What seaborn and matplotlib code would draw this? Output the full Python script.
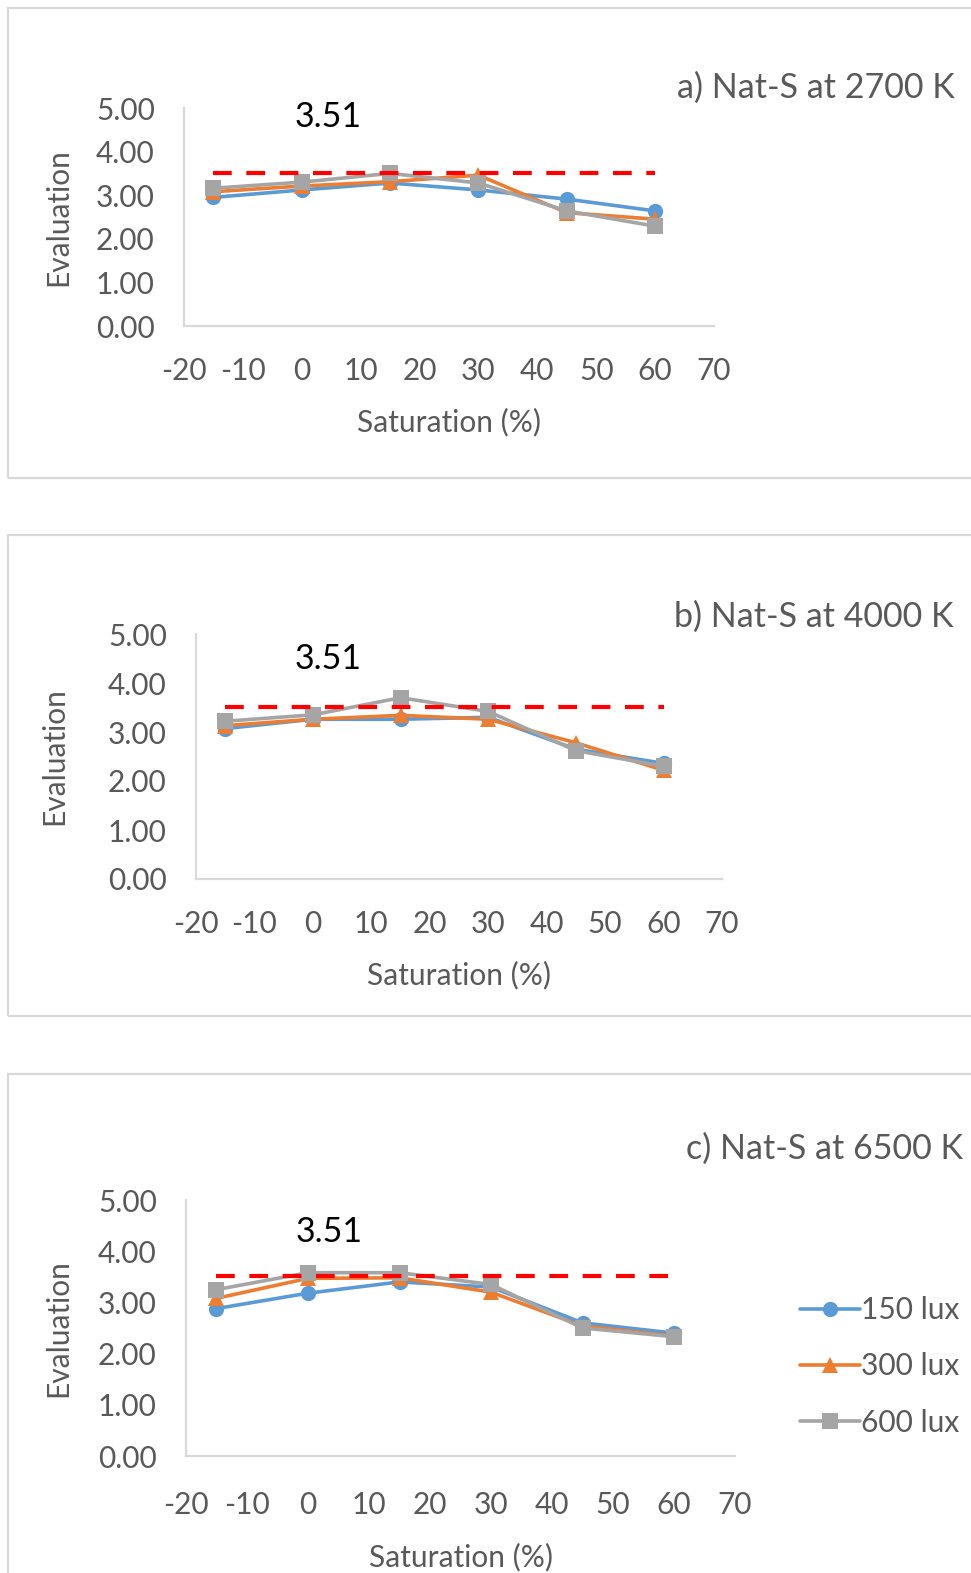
import numpy as np
import pandas as pd
import matplotlib
matplotlib.use("Agg")
import matplotlib.pyplot as plt
import seaborn as sns
from matplotlib.patches import Rectangle

sns.set_theme(style="white")
plt.rcParams["font.family"] = ["Lato", "DejaVu Sans"]
plt.rcParams["axes.unicode_minus"] = False

# Saturation levels (%) and mean evaluations per illuminance
saturation = [-15, 0, 15, 30, 45, 60]
levels = ["150 lux", "300 lux", "600 lux"]

eval_2700 = {
    "150 lux": [2.95, 3.12, 3.28, 3.12, 2.91, 2.64],
    "300 lux": [3.08, 3.21, 3.31, 3.46, 2.60, 2.45],
    "600 lux": [3.16, 3.30, 3.50, 3.28, 2.64, 2.29],
}
eval_4000 = {
    "150 lux": [3.07, 3.26, 3.26, 3.30, 2.65, 2.36],
    "300 lux": [3.13, 3.26, 3.34, 3.26, 2.78, 2.22],
    "600 lux": [3.22, 3.35, 3.70, 3.42, 2.62, 2.30],
}
eval_6500 = {
    "150 lux": [2.88, 3.18, 3.40, 3.30, 2.60, 2.40],
    "300 lux": [3.08, 3.47, 3.48, 3.20, 2.54, 2.34],
    "600 lux": [3.25, 3.58, 3.58, 3.35, 2.50, 2.33],
}
reference_value = 3.51
titles = ["a) Nat-S at 2700 K", "b) Nat-S at 4000 K", "c) Nat-S at 6500 K"]
x_ticks = list(range(-20, 71, 10))
y_ticks = [0, 1, 2, 3, 4, 5]

palette = {"150 lux": "#5B9BD5", "300 lux": "#ED7D31", "600 lux": "#A5A5A5"}
markers = {"150 lux": "o", "300 lux": "^", "600 lux": "s"}
text_gray = "#595959"
frame_gray = "#D9D9D9"

W, H = 971, 1573
fig = plt.figure(figsize=(W / 100, H / 100), dpi=100)


def fx(px):
    return px / W


def fy(py):
    return 1 - py / H


# panel frames (pixel boxes: left, top, right, bottom)
frames = [(8, 8, 990, 478), (8, 535, 990, 1016), (8, 1074, 990, 1600)]
for (l, t, r, b) in frames:
    fig.patches.append(Rectangle((fx(l), fy(b)), fx(r - l), fy(t) - fy(b),
                                 transform=fig.transFigure, fill=False,
                                 edgecolor=frame_gray, linewidth=1.6, zorder=0))

# axes boxes (pixel coords: left, top, right, bottom)
axes_boxes = [(184, 108, 714, 326), (196, 634, 722, 879), (186, 1200, 735, 1456)]
label_pos = [(4.5, 4.8), (2.6, 4.5), (3.5, 4.37)]
title_pos = [(955, 88), (953, 617), (963, 1149)]
ylabel_x = [58, 54, 58]
xtick_pad = [22, 22, 25]
datasets = [eval_2700, eval_4000, eval_6500]
fs = 21.5

for i, (box, data) in enumerate(zip(axes_boxes, datasets)):
    l, t, r, b = box
    ax = fig.add_axes([fx(l), fy(b), fx(r - l), fy(t) - fy(b)])
    df = pd.DataFrame(
        [(s, lv, v) for lv in levels for s, v in zip(saturation, data[lv])],
        columns=["Saturation", "Illuminance", "Evaluation"],
    )
    sns.lineplot(data=df, x="Saturation", y="Evaluation", hue="Illuminance",
                 style="Illuminance", palette=palette, markers=markers,
                 dashes=False, hue_order=levels, style_order=levels,
                 linewidth=2.6, markersize=11, markeredgewidth=0,
                 legend=False, ax=ax, zorder=3)
    ref = pd.DataFrame({"Saturation": [saturation[0], saturation[-1]],
                        "Evaluation": [reference_value] * 2})
    sns.lineplot(data=ref, x="Saturation", y="Evaluation", color="#FF0000",
                 linewidth=3.0, ax=ax, zorder=4)
    ax.lines[-1].set_dashes([4.5, 3.5])
    ax.text(label_pos[i][0], label_pos[i][1], f"{reference_value:.2f}",
            fontsize=24.5, color="black", ha="center", va="center")

    ax.set_xlim(-20, 70)
    ax.set_ylim(0, 5)
    ax.set_xticks(x_ticks)
    ax.set_yticks(y_ticks)
    ax.set_yticklabels([f"{v:.2f}" for v in y_ticks])
    ax.tick_params(axis="both", length=0, labelsize=fs, colors=text_gray)
    ax.tick_params(axis="x", pad=xtick_pad[i])
    ax.tick_params(axis="y", pad=21)
    ax.set_xlabel("Saturation (%)", fontsize=fs, color=text_gray, labelpad=17)
    ax.set_ylabel("")
    for side in ["top", "right"]:
        ax.spines[side].set_visible(False)
    for side in ["left", "bottom"]:
        ax.spines[side].set_color(frame_gray)
        ax.spines[side].set_linewidth(1.6)
    ax.patch.set_alpha(0)

    fig.text(fx(ylabel_x[i]), fy((t + b) / 2), "Evaluation", rotation=90,
             fontsize=fs, color=text_gray, ha="center", va="center")
    fig.text(fx(title_pos[i][0]), fy(title_pos[i][1]), titles[i],
             fontsize=24.5, color=text_gray, ha="right", va="center")

    if i == 2:
        handles = [plt.Line2D([], [], color=palette[lv], marker=markers[lv],
                              linewidth=2.6, markersize=11, markeredgewidth=0)
                   for lv in levels]
        fig.legend(handles, levels, loc="upper left",
                   bbox_to_anchor=(fx(800), fy(1296)), frameon=False,
                   fontsize=fs, labelcolor=text_gray, handlelength=2.0,
                   handletextpad=0.05, labelspacing=0.95, borderpad=0,
                   borderaxespad=0)

fig.savefig("out.png", dpi=100, facecolor="white")
